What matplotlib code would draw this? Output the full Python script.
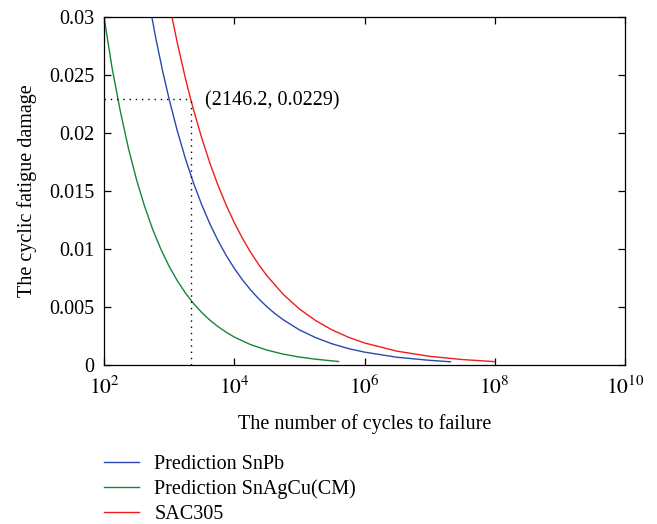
import matplotlib
matplotlib.use("Agg")
import matplotlib.pyplot as plt

# ---- data ----
snpb_cycles = [501, 631, 794, 1000, 1333, 1778, 2371, 3162, 4217, 5623, 7499, 10000,
               13335, 17783, 23714, 31623, 42170, 56234, 100000, 177828, 316228, 562341,
               1000000, 3162278, 10000000, 20900000]
snpb_damage = [0.03103, 0.02804, 0.02535, 0.02292, 0.02020, 0.01779, 0.01568, 0.01382,
               0.01218, 0.01073, 0.00946, 0.00834, 0.00735, 0.00648, 0.00571, 0.00503,
               0.00443, 0.00391, 0.00303, 0.00236, 0.00183, 0.00142, 0.00111, 0.000666,
               0.000402, 0.00028]

snagcu_cycles = [100, 133, 178, 237, 316, 422, 562, 750, 1000, 1333, 1778, 2371, 3162,
                 4217, 5623, 7499, 10000, 17783, 31623, 56234, 100000, 177828, 400000]
snagcu_damage = [0.0300, 0.02561, 0.02188, 0.01869, 0.01597, 0.01364, 0.01166, 0.00996,
                 0.00851, 0.00727, 0.00621, 0.00530, 0.00453, 0.00387, 0.00331, 0.00283,
                 0.00241, 0.00176, 0.00129, 0.000939, 0.000686, 0.00050, 0.00030]

sac305_cycles = [1000, 1334, 1778, 2146.2, 2371, 3162, 4217, 5623, 7499, 10000, 13335,
                 17783, 23714, 31623, 56234, 100000, 177828, 316228, 562341, 1000000,
                 3162278, 10000000, 31622777, 100000000]
sac305_damage = [0.0312, 0.02778, 0.02471, 0.0229, 0.0220, 0.01958, 0.01742, 0.0155,
                 0.0138, 0.01228, 0.01093, 0.00973, 0.00866, 0.00771, 0.0061, 0.00483,
                 0.00383, 0.00303, 0.0024, 0.0019, 0.00119, 0.00075, 0.00047, 0.00029]

marker_point = (2146.2, 0.0229)
marker_label = "(2146.2, 0.0229)"

series_labels = ["Prediction SnPb", "Prediction SnAgCu(CM)", "SAC305"]
series_colors = ["#2a48b0", "#15873a", "#f21c1c"]

x_ticks = [1e2, 1e4, 1e6, 1e8, 1e10]
x_ticklabels = [r"$10^{2}$", r"$10^{4}$", r"$10^{6}$", r"$10^{8}$", r"$10^{10}$"]
y_ticks = [0, 0.005, 0.01, 0.015, 0.02, 0.025, 0.03]
y_ticklabels = ["0", "0.005", "0.01", "0.015", "0.02", "0.025", "0.03"]

# ---- style ----
plt.rcParams["font.family"] = ["Liberation Serif", "DejaVu Serif"]
plt.rcParams["mathtext.fontset"] = "stix"
plt.rcParams["font.size"] = 14.5

fig = plt.figure(figsize=(6.57, 5.24), dpi=100)
ax = fig.add_axes([104 / 657, 1 - 365 / 524, (625 - 104) / 657, (365 - 17) / 524])

lines = []
for xs, ys, lab, col in zip([snpb_cycles, snagcu_cycles, sac305_cycles],
                            [snpb_damage, snagcu_damage, sac305_damage],
                            series_labels, series_colors):
    ln, = ax.plot(xs, ys, color=col, lw=1.0, label=lab)
    lines.append(ln)

ax.set_xscale("log")
ax.set_xlim(1e2, 1e10)
ax.set_ylim(0, 0.03)

# dotted guide lines
ax.plot([1e2, marker_point[0]], [marker_point[1], marker_point[1]],
        color="black", lw=1.0, linestyle=(0, (1, 3.5)))
ax.plot([marker_point[0], marker_point[0]], [0, marker_point[1]],
        color="black", lw=1.0, linestyle=(0, (1, 3.5)))
ax.text(3600, 0.02275, marker_label, ha="left", va="center", fontsize=14.5)

ax.set_xticks(x_ticks)
ax.set_xticklabels(x_ticklabels, fontsize=15.5)
ax.set_yticks(y_ticks)
ax.set_yticklabels(y_ticklabels, fontsize=14.5)
ax.minorticks_off()
ax.tick_params(direction="in", top=True, right=True, length=5, width=0.9, pad=7)
ax.tick_params(axis="x", pad=8)
for s in ax.spines.values():
    s.set_linewidth(0.9)

ax.set_xlabel("The number of cycles to failure", labelpad=11)
ax.set_ylabel("The cyclic fatigue damage", labelpad=9)

fig.legend(handles=lines, labels=series_labels, loc="upper left",
           bbox_to_anchor=(104 / 657, 1 - 455 / 524), frameon=False,
           borderaxespad=0, borderpad=0, handlelength=1.75, handletextpad=0.75,
           labelspacing=0.28, fontsize=14.5)

fig.savefig("out.png", dpi=100)
